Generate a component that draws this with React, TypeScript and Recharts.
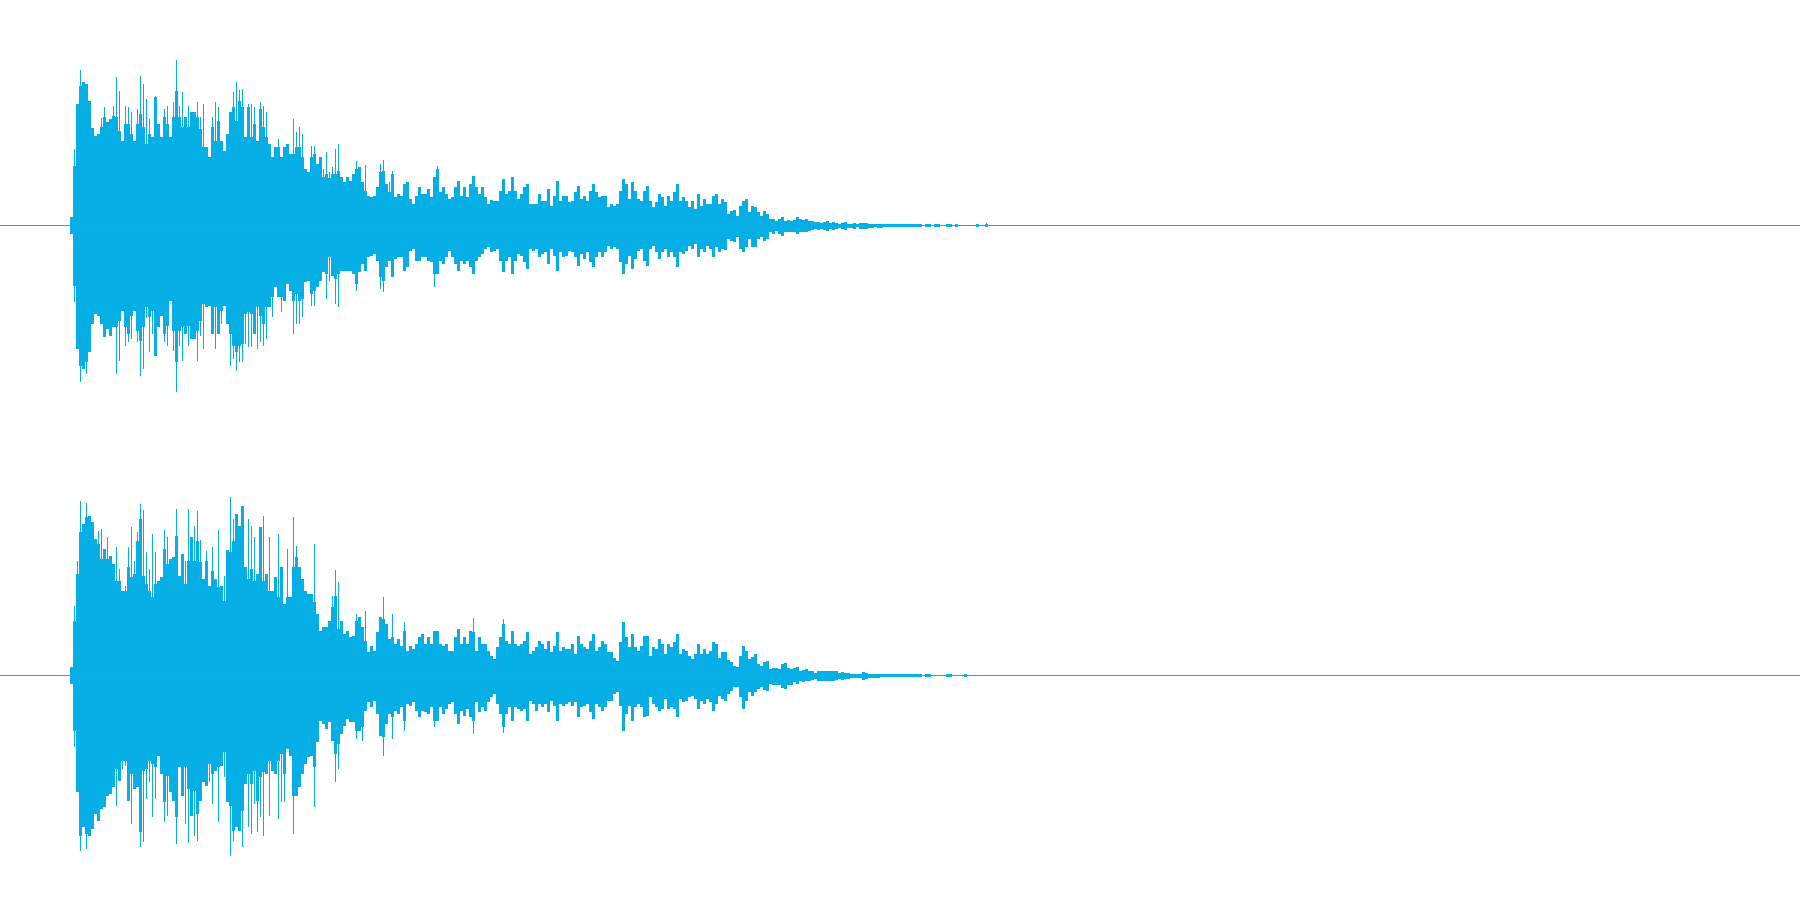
import { BarChart, Bar, XAxis, YAxis, ReferenceLine } from 'recharts';

// waveform envelope, one column per 3px of the picture, first column sits at x=69
const COLOR = '#06aee6';
const LINE_COLOR = '#00b2ee';
const COLUMNS = 600;
const LEAD_IN = 23;

const topUpper = [
  9, 60, 122, 140, 144, 142, 125, 98, 90, 92,
  99, 109, 104, 107, 110, 109, 95, 85, 102, 102,
  92, 85, 102, 112, 99, 82, 92, 89, 129, 102,
  89, 109, 102, 89, 109, 135, 109, 99, 109, 99,
  114, 114, 109, 97, 79, 79, 69, 99, 85, 105,
  85, 75, 92, 114, 119, 105, 125, 119, 89, 119,
  89, 102, 85, 117, 99, 89, 82, 69, 79, 79,
  69, 79, 82, 72, 72, 79, 79, 69, 57, 54,
  69, 72, 62, 69, 49, 52, 48, 52, 52, 55,
  49, 44, 49, 45, 52, 57, 59, 44, 35, 30,
  29, 30, 39, 54, 55, 42, 34, 52, 29, 32,
  30, 42, 44, 27, 22, 30, 39, 32, 32, 37,
  29, 49, 57, 34, 39, 32, 27, 29, 39, 45,
  30, 39, 29, 42, 50, 39, 32, 39, 29, 22,
  26, 25, 25, 35, 47, 32, 35, 49, 35, 27,
  32, 39, 42, 22, 22, 22, 32, 25,
  25, 37, 20, 30, 45, 25, 30, 30, 24, 25,
  34, 40, 27, 30, 25, 35, 42, 34, 29, 30,
  30, 19, 22, 20, 22, 35, 47, 42, 27, 44,
  35, 27, 25, 35, 40, 25, 19, 24, 32, 29,
  20, 30, 25, 34, 42, 25, 29, 25, 19, 25,
  17, 32, 20, 27, 22, 22, 30, 32, 22, 27,
  24, 12, 15, 16, 10, 20, 25, 27, 14, 20,
  19, 14, 10, 15, 12, 7, 7, 5, 7, 9,
  5, 6, 5, 6, 9, 7, 6, 7, 5, 5,
  4, 4, 3, 4, 5, 3, 4, 3,
  2, 3, 4, 2, 2, 3, 1.5, 3, 3, 3, 2, 2, 1.5, 2, 2, 1.5,
  1.5, 1.5, 1.5, 1.5, 1.5, 1.5, 1.5, 1.5, 1.5, 1.5, 1.5, 1.5, 0, 1.5, 1.5, 0, 1.5,
  1.5, 0, 0, 1.5, 1.5, 0, 1.5, 0, 0, 0, 0, 0, 0, 1.5, 0, 0, 1.5,
];

const topLower = [
  8, 60, 123, 140, 143, 136, 126, 98, 88, 90,
  98, 111, 103, 110, 101, 101, 95, 85, 101, 108,
  90, 85, 105, 115, 101, 81, 91, 85, 130, 101,
  90, 108, 100, 75, 105, 136, 105, 101, 108, 100,
  113, 113, 105, 95, 78, 81, 80, 108, 81, 108,
  85, 80, 98, 108, 120, 126, 120, 118, 88, 86,
  88, 108, 81, 90, 98, 81, 81, 71, 61, 71,
  71, 75, 58, 65, 75, 68, 75, 73, 56, 55,
  68, 65, 61, 55, 46, 48, 31, 50, 53, 48,
  45, 45, 45, 45, 48, 58, 46, 38, 45, 31,
  30, 28, 35, 51, 55, 41, 35, 51, 33, 31,
  31, 45, 41, 25, 23, 35, 35, 31, 31, 35,
  36, 48, 48, 35, 38, 31, 25, 31, 38, 45,
  35, 38, 35, 41, 48, 35, 31, 28, 23, 21,
  26, 25, 23, 35, 46, 35, 31, 48, 35, 28,
  30, 36, 43, 23, 25, 23, 31, 28,
  26, 38, 23, 30, 45, 26, 31, 30, 25, 26,
  31, 40, 28, 33, 26, 36, 41, 31, 26, 31,
  26, 20, 23, 21, 23, 36, 48, 38, 30, 43,
  33, 25, 23, 35, 40, 23, 20, 26, 33, 26,
  23, 31, 26, 31, 41, 26, 28, 25, 20, 23,
  18, 31, 23, 26, 20, 23, 31, 21, 26, 23,
  24, 13, 15, 16, 11, 23, 26, 21, 13, 21,
  21, 13, 11, 15, 13, 6, 8, 5, 8, 10,
  6, 6, 6, 6, 8, 6, 6, 6, 5, 4,
  3, 4, 3, 4, 5, 3, 4, 3,
  2, 3, 4, 2, 2, 3, 1.5, 3, 3, 3, 2, 2, 1.5, 2, 2, 1.5,
  1.5, 1.5, 1.5, 1.5, 1.5, 1.5, 1.5, 1.5, 1.5, 1.5, 1.5, 1.5, 0, 1.5, 1.5, 0, 1.5,
  1.5, 0, 0, 1.5, 1.5, 0, 1.5, 0, 0, 0, 0, 0, 0, 1.5, 0, 0, 1.5,
];

const bottomUpper = [
  9, 55, 102, 144, 152, 159, 160, 154, 137, 132,
  117, 127, 117, 120, 112, 95, 95, 85, 85, 109,
  99, 102, 135, 157, 100, 92, 85, 79, 92, 95,
  99, 127, 112, 117, 119, 140, 100, 122, 92, 115,
  139, 115, 135, 114, 97, 115, 90, 105, 97, 89,
  90, 75, 126, 124, 135, 162, 150, 170, 109, 97,
  107, 95, 102, 149, 95, 102, 85, 85, 99, 79,
  109, 72, 79, 79, 109, 119, 109, 97, 85, 82,
  82, 74, 62, 45, 49, 49, 55, 69, 80, 47,
  55, 42, 45, 39, 40, 55, 59, 49, 35, 24,
  30, 25, 44, 59, 57, 52, 37, 39, 32, 37,
  30, 45, 25, 30, 27, 32, 39, 42, 32, 39,
  32, 45, 45, 32, 30, 32, 25, 25, 39, 47,
  32, 39, 32, 45, 44, 25, 39, 32, 32, 25,
  20, 17, 29, 39, 52, 35, 32, 45, 32, 30,
  32, 35, 44, 22, 25, 29, 35, 32,
  27, 35, 24, 30, 44, 25, 29, 27, 27, 32,
  22, 40, 32, 29, 27, 35, 42, 25, 29, 35,
  32, 24, 24, 18, 15, 34, 54, 39, 29, 42,
  29, 25, 30, 40, 40, 20, 29, 27, 37, 32,
  22, 32, 29, 34, 42, 22, 27, 25, 20, 17,
  22, 32, 22, 27, 22, 25, 34, 32, 18, 24,
  24, 16, 14, 10, 9, 20, 30, 25, 17, 19,
  22, 12, 10, 14, 15, 7, 8, 8, 7, 12,
  13, 8, 7, 8, 9, 5, 6, 7, 5, 5,
  3, 5, 5, 5, 5, 5, 5, 5,
  3, 4, 3, 3, 2, 2, 2, 2, 4, 3, 2, 2, 2, 2, 1.5, 1.5,
  1.5, 1.5, 1.5, 1.5, 1.5, 1.5, 1.5, 1.5, 1.5, 1.5, 1.5, 1.5, 0, 1.5, 1.5, 0, 0,
  0, 0, 0, 1.5, 1.5, 0, 0, 0, 0, 1.5, 0, 0, 0, 0, 0, 0, 0,
];

const bottomLower = [
  8, 55, 116, 160, 151, 158, 160, 153, 138, 145,
  133, 131, 120, 118, 111, 93, 105, 85, 85, 125,
  98, 113, 111, 156, 95, 93, 85, 88, 91, 80,
  98, 126, 100, 116, 125, 141, 91, 120, 91, 113,
  140, 115, 138, 125, 106, 110, 88, 98, 95, 91,
  90, 76, 126, 130, 155, 151, 155, 135, 108, 98,
  108, 95, 125, 101, 96, 98, 85, 95, 98, 85,
  78, 98, 73, 80, 120, 120, 111, 98, 88, 81,
  80, 91, 66, 45, 48, 53, 46, 65, 78, 68,
  58, 50, 43, 46, 46, 55, 55, 51, 35, 26,
  31, 25, 38, 60, 61, 48, 38, 41, 35, 38,
  31, 45, 28, 30, 26, 35, 41, 35, 36, 38,
  31, 45, 45, 31, 38, 33, 28, 26, 38, 48,
  35, 40, 33, 41, 45, 26, 36, 31, 35, 26,
  21, 18, 28, 38, 51, 38, 31, 45, 31, 33,
  35, 33, 45, 25, 28, 35, 28, 31,
  28, 36, 25, 30, 45, 28, 30, 28, 26, 30,
  26, 41, 31, 30, 28, 36, 43, 28, 31, 35,
  31, 25, 25, 18, 16, 30, 55, 38, 30, 45,
  31, 28, 31, 41, 40, 21, 28, 31, 35, 33,
  23, 33, 31, 33, 41, 23, 26, 25, 21, 20,
  23, 33, 25, 28, 23, 26, 35, 28, 20, 23,
  25, 18, 15, 11, 11, 21, 33, 25, 16, 20,
  16, 13, 11, 14, 15, 8, 9, 9, 9, 12,
  13, 9, 9, 6, 8, 5, 6, 5, 5, 4,
  3, 5, 5, 5, 5, 5, 5, 4,
  3, 4, 3, 3, 2, 2, 2, 2, 4, 3, 2, 2, 2, 2, 1.5, 1.5,
  1.5, 1.5, 1.5, 1.5, 1.5, 1.5, 1.5, 1.5, 1.5, 1.5, 1.5, 1.5, 0, 1.5, 1.5, 0, 0,
  0, 0, 0, 1.5, 1.5, 0, 0, 0, 0, 1.5, 0, 0, 0, 0, 0, 0, 0,
];

// thin one-pixel peaks standing out of the envelope: [column, amplitude]
const topUpperPeaks = [
  [1, 77], [3, 156], [10, 108], [11, 119], [14, 120], [15, 149], [16, 135], [18, 120], [19, 119], [20, 114],
  [22, 117], [23, 150], [24, 142], [25, 127], [26, 107], [28, 130], [31, 117], [32, 120], [34, 124], [35, 166],
  [36, 120], [37, 134], [39, 120], [42, 124], [43, 109], [44, 122], [47, 109], [48, 124], [49, 119], [54, 134],
  [55, 144], [56, 136], [57, 137], [59, 122], [60, 122], [61, 119], [63, 124], [64, 120], [65, 114], [69, 87],
  [74, 107], [75, 94], [76, 99], [77, 92], [80, 80], [81, 80], [84, 57], [85, 74], [86, 54], [87, 59],
  [88, 77], [89, 82], [95, 65], [98, 61], [103, 62], [104, 66], [106, 44], [107, 55], [122, 60], [305, 3],
];
const topLowerPeaks = [
  [1, 76], [3, 156], [5, 148], [15, 148], [16, 135], [18, 120], [19, 116], [20, 113], [22, 116], [23, 150],
  [24, 143], [25, 92], [26, 126], [27, 108], [31, 116], [32, 120], [34, 125], [35, 166], [36, 120], [37, 135],
  [39, 120], [42, 135], [43, 110], [44, 123], [48, 123], [50, 98], [53, 140], [54, 133], [55, 145], [56, 136],
  [57, 136], [58, 118], [59, 121], [60, 121], [62, 123], [63, 116], [64, 120], [65, 113], [67, 91], [70, 86],
  [74, 108], [75, 98], [76, 98], [77, 91], [80, 80], [81, 80], [85, 73], [86, 55], [88, 78], [89, 81],
  [95, 65], [103, 63], [104, 66], [121, 61],
];
const bottomUpperPeaks = [
  [1, 70], [2, 115], [3, 175], [5, 173], [9, 145], [10, 147], [12, 139], [15, 129], [16, 107], [18, 90],
  [19, 129], [20, 149], [21, 115], [22, 144], [23, 172], [24, 166], [25, 124], [26, 107], [27, 142], [28, 124],
  [31, 146], [32, 139], [35, 167], [38, 115], [39, 167], [41, 150], [42, 165], [43, 136], [45, 125], [47, 129],
  [49, 146], [51, 100], [53, 179], [54, 157], [59, 157], [60, 150], [61, 139], [64, 160], [66, 139], [69, 142],
  [72, 127], [74, 159], [75, 130], [81, 132], [87, 80], [88, 106], [89, 94], [95, 62], [98, 65], [104, 79],
  [107, 62], [111, 54], [134, 58], [144, 57],
];
const bottomLowerPeaks = [
  [1, 71], [3, 175], [5, 173], [15, 130], [17, 93], [18, 90], [20, 148], [23, 171], [24, 166], [25, 123],
  [26, 106], [27, 141], [28, 123], [31, 146], [32, 140], [35, 168], [38, 148], [39, 167], [41, 160], [42, 165],
  [46, 106], [47, 128], [49, 146], [51, 101], [53, 180], [54, 165], [57, 171], [59, 151], [60, 158], [61, 128],
  [62, 156], [63, 141], [64, 160], [66, 140], [69, 143], [70, 126], [71, 126], [74, 158], [81, 131], [88, 106],
  [89, 93], [95, 63], [97, 65], [104, 80], [107, 63], [111, 55], [121, 51], [134, 58], [144, 57],
];

const buildChannel = (upper: number[], lower: number[], upPeaks: number[][], lowPeaks: number[][]) => {
  const up = new Map(upPeaks.map(([c, v]) => [c, v]));
  const low = new Map(lowPeaks.map(([c, v]) => [c, v]));
  return Array.from({ length: COLUMNS }, (_, col) => {
    const i = col - LEAD_IN;
    const hasPeak = up.has(i) || low.has(i);
    return {
      col,
      body: i >= 0 && i < upper.length ? [-(lower[i] ?? 0), upper[i]] : null,
      peak: hasPeak ? [-(low.get(i) ?? 0), up.get(i) ?? 0] : null,
    };
  });
};

function Channel({ data, top }: { data: any[]; top: number }) {
  return (
    <div style={{ position: 'absolute', left: 0, top }}>
      <BarChart
        width={1800}
        height={451}
        data={data}
        margin={{ top: 0.5, right: 0, bottom: 0.5, left: 0 }}
        barCategoryGap={0}
        barGap={-2}
      >
        <XAxis dataKey="col" hide />
        <YAxis domain={[-225, 225]} hide />
        <ReferenceLine y={0} stroke={LINE_COLOR} strokeWidth={1} />
        <Bar dataKey="body" fill={COLOR} barSize={3} isAnimationActive={false} shapeRendering="crispEdges" />
        <Bar dataKey="peak" fill={COLOR} barSize={1} isAnimationActive={false} shapeRendering="crispEdges" />
      </BarChart>
    </div>
  );
}

export default function App() {
  return (
    <div style={{ position: 'absolute', left: 0, top: 0, width: 1800, height: 900, background: '#fff', overflow: 'hidden' }}>
      <Channel data={buildChannel(topUpper, topLower, topUpperPeaks, topLowerPeaks)} top={0} />
      <Channel data={buildChannel(bottomUpper, bottomLower, bottomUpperPeaks, bottomLowerPeaks)} top={450} />
    </div>
  );
}
